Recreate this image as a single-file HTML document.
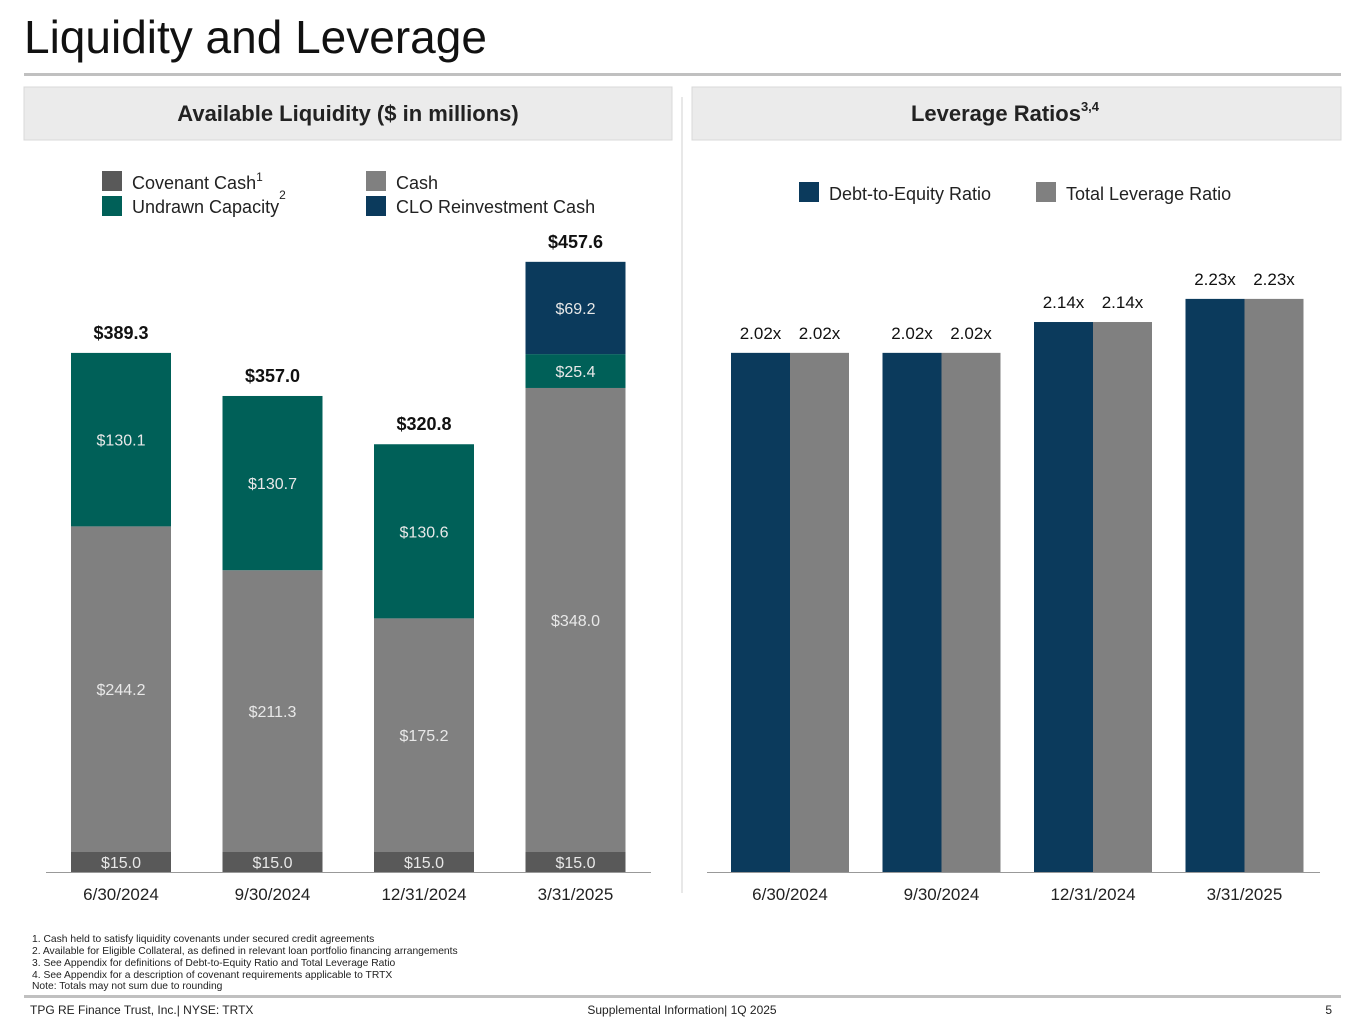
<!DOCTYPE html>
<html><head><meta charset="utf-8"><style>
body{margin:0;width:1365px;height:1024px;background:#fff;font-family:"Liberation Sans",sans-serif;overflow:hidden;position:relative}
svg{position:absolute;left:0;top:0}
</style></head><body>
<svg width="1365" height="1024" font-family="Liberation Sans, sans-serif">
<text x="24" y="53" font-size="46" fill="#111">Liquidity and Leverage</text>
<rect x="24" y="73" width="1317" height="3" fill="#c0c0c0"/>
<rect x="24" y="87" width="648" height="53" fill="#ebebeb" stroke="#d8d8d8"/>
<text x="348" y="121" font-size="22" font-weight="bold" text-anchor="middle" fill="#222">Available Liquidity ($ in millions)</text>
<rect x="692" y="87" width="649" height="53" fill="#ebebeb" stroke="#d8d8d8"/>
<text x="1005" y="121" font-size="22" font-weight="bold" text-anchor="middle" fill="#222">Leverage Ratios<tspan font-size="13" dy="-10">3,4</tspan></text>
<line x1="682" y1="97" x2="682" y2="893" stroke="#d0d0d0"/>
<g font-size="18" fill="#222">
<rect x="102" y="171" width="20" height="20" fill="#595959"/><text x="132" y="189">Covenant Cash<tspan font-size="12" dy="-8">1</tspan></text>
<rect x="102" y="196" width="20" height="20" fill="#006058"/><text x="132" y="213">Undrawn Capacity<tspan font-size="12" dy="-14">2</tspan></text>
<rect x="366" y="171" width="20" height="20" fill="#808080"/><text x="396" y="189">Cash</text>
<rect x="366" y="196" width="20" height="20" fill="#0b3a5c"/><text x="396" y="213">CLO Reinvestment Cash</text>
</g>
<g font-size="18" fill="#222">
<rect x="799" y="182" width="20" height="20" fill="#0b3a5c"/><text x="829" y="200">Debt-to-Equity Ratio</text>
<rect x="1036" y="182" width="20" height="20" fill="#808080"/><text x="1066" y="200">Total Leverage Ratio</text>
</g>
<g id="left"></g><g id="right"></g>
<g font-size="10.3" fill="#222">
<text x="32" y="942">1. Cash held to satisfy liquidity covenants under secured credit agreements</text>
<text x="32" y="954">2. Available for Eligible Collateral, as defined in relevant loan portfolio financing arrangements</text>
<text x="32" y="966">3. See Appendix for definitions of Debt-to-Equity Ratio and Total Leverage Ratio</text>
<text x="32" y="978">4. See Appendix for a description of covenant requirements applicable to TRTX</text>
<text x="32" y="989">Note: Totals may not sum due to rounding</text>
</g>
<rect x="24" y="995" width="1317" height="3" fill="#c0c0c0"/>
<g font-size="12" fill="#222">
<text x="30" y="1014">TPG RE Finance Trust, Inc.| NYSE: TRTX</text>
<text x="682" y="1014" text-anchor="middle">Supplemental Information| 1Q 2025</text>
<text x="1332" y="1014" text-anchor="end">5</text>
</g>
</svg>
<script>
const categories=["6/30/2024","9/30/2024","12/31/2024","3/31/2025"];
const covenantCash=[15.0,15.0,15.0,15.0];
const cash=[244.2,211.3,175.2,348.0];
const undrawn=[130.1,130.7,130.6,25.4];
const clo=[0,0,0,69.2];
const totals=[389.3,357.0,320.8,457.6];
const debtToEquity=[2.02,2.02,2.14,2.23];
const totalLeverage=[2.02,2.02,2.14,2.23];
const NS="http://www.w3.org/2000/svg";
function mk(p,t,a,txt){const e=document.createElementNS(NS,t);for(const k in a)e.setAttribute(k,a[k]);if(txt!=null)e.textContent=txt;p.appendChild(e);return e;}
const base=872;
const yL=v=>v*1.3334;
const xL=i=>71+i*151.5;
const L=document.getElementById('left');
mk(L,'line',{x1:46,x2:651,y1:base+0.5,y2:base+0.5,stroke:'#999'});
const series=[[covenantCash,'#595959','covenant-cash'],[cash,'#808080','cash'],[undrawn,'#006058','undrawn-capacity'],[clo,'#0b3a5c','clo-reinvestment-cash']];
categories.forEach((c,i)=>{
 let acc=0;
 series.forEach(([arr,col,nm])=>{
  const v=arr[i]; if(!v) return;
  const y0=base-yL(acc), h=yL(v); acc+=v;
  const r=mk(L,'rect',{x:xL(i),y:y0-h,width:100,height:h,fill:col});
  
  
  const t=mk(L,'text',{x:xL(i)+50,y:y0-h/2+6,'font-size':16,fill:'#e8e8e8','text-anchor':'middle'},'$'+v.toFixed(1));
  
  
 });
 const t=mk(L,'text',{x:xL(i)+50,y:base-yL(totals[i])-14,'font-size':18,'font-weight':'bold',fill:'#111','text-anchor':'middle'},'$'+totals[i].toFixed(1));
 
 
 const x=mk(L,'text',{x:xL(i)+50,y:900,'font-size':17,fill:'#222','text-anchor':'middle'},c);
 
 
});
const R=document.getElementById('right');
const yR=v=>v*257;
const xR=i=>731+i*151.5;
mk(R,'line',{x1:707,x2:1320,y1:base+0.5,y2:base+0.5,stroke:'#999'});
categories.forEach((c,i)=>{
 [[debtToEquity,'#0b3a5c',0,'debt-to-equity'],[totalLeverage,'#808080',59,'total-leverage']].forEach(([arr,col,off,nm])=>{
  const h=yR(arr[i]);
  const r=mk(R,'rect',{x:xR(i)+off,y:base-h,width:59,height:h,fill:col});
  
  
  const t=mk(R,'text',{x:xR(i)+off+29.5,y:base-h-14,'font-size':17,fill:'#111','text-anchor':'middle'},arr[i].toFixed(2)+'x');
  
  
 });
 const x=mk(R,'text',{x:xR(i)+59,y:900,'font-size':17,fill:'#222','text-anchor':'middle'},c);
 
 
});
</script>
</body></html>
